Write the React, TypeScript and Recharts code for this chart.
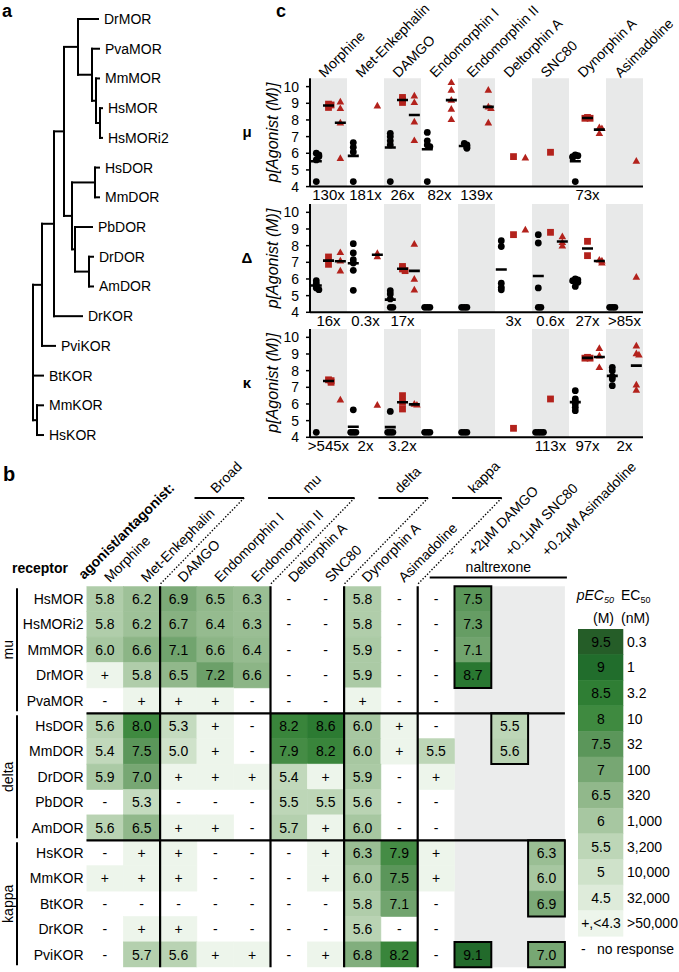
import React from 'react';
import { ScatterChart, Scatter, XAxis, YAxis, ReferenceLine, ReferenceArea } from 'recharts';

const FONT = '"Liberation Sans", Arial, Helvetica, sans-serif';
const RED = '#b3221c';
const BAND = '#e8e9e9';

// ================= Panel a: tree =================
const treeLeaves = ['DrMOR', 'PvaMOR', 'MmMOR', 'HsMOR', 'HsMORi2', 'HsDOR', 'MmDOR', 'PbDOR', 'DrDOR', 'AmDOR', 'DrKOR', 'PviKOR', 'BtKOR', 'MmKOR', 'HsKOR'];
const leafDepth = [98, 99, 99, 102, 102, 99, 99, 92, 93, 93, 82, 55, 43, 43, 43];
const leafParent = ['MOR', 'PVA', 'MMHS', 'HS', 'HS', 'DHM', 'DHM', 'DB', 'DDA', 'DDA', 'DK', 'PK', 'ROOT', 'KMH', 'KMH'];
const nodeIds = ['HS', 'MMHS', 'PVA', 'MOR', 'DHM', 'DDA', 'DB', 'DA', 'MD', 'DK', 'PK', 'KMH', 'ROOT'];
const nodeDepth = [100, 96, 92, 78, 95, 89, 75, 72, 64, 54, 42, 37, 33];
const nodeParent: (string | null)[] = ['MMHS', 'PVA', 'MOR', 'MD', 'DA', 'DB', 'DA', 'MD', 'DK', 'PK', 'ROOT', 'ROOT', null];

// ================= Panel c: scatter =================
const agonists = ['Morphine', 'Met-Enkephalin', 'DAMGO', 'Endomorphin I', 'Endomorphin II', 'Deltorphin A', 'SNC80', 'Dynorphin A', 'Asimadoline'];

const muBlack = [[6.0, 5.9, 5.8, 5.6, 4.3], [6.64, 6.36, 6.08, 4.3], [7.2, 7.0, 6.75, 6.5, 4.3], [7.25, 6.75, 6.5, 6.4, 4.3], [6.6, 6.5, 6.45, 6.35, 6.3], [], [], [5.9, 5.85, 5.8, 5.75, 4.3], []];
const muSquare = [[8.95, 8.9, 8.75], [], [9.35, 9.2, 9.05], [], [], [5.8], [6.06], [8.15, 8.1, 8.1], []];
const muTri = [[9.1, 8.7, 7.84, 5.7], [8.86], [9.46, 9.06, 7.9, 6.78], [10.26, 9.8, 9.2, 8.66, 8.04], [9.8, 8.8, 8.7, 7.84], [5.74], [], [7.55, 7.5, 7.2], [5.54]];
const muRatio = ['130x', '181x', '26x', '82x', '139x', '', '', '73x', ''];

const deBlack = [[5.9, 5.72, 5.6, 5.46, 5.36], [8.12, 7.56, 7.16, 6.96, 6.52, 5.32], [5.3, 5.1, 4.8, 4.3, 4.3], [4.3, 4.3, 4.3], [4.3, 4.3, 4.3], [8.3, 7.95, 5.75, 5.5, 5.35], [8.66, 8.16, 5.46, 4.3, 4.3], [6.0, 5.95, 5.9, 5.8, 5.55], [4.3, 4.3, 4.3]];
const deSquare = [[7.32, 6.88], [], [6.75, 6.6, 6.5], [], [], [8.66], [8.8], [8.26, 7.4], []];
const deTri = [[7.6, 7.1, 6.5], [7.55, 7.35], [8.1, 6.0, 5.36], [], [], [8.96], [8.55, 8.2, 8.0], [7.15, 7.1, 6.98], [6.12]];
const deRatio = ['16x', '0.3x', '17x', '', '', '3x', '0.6x', '27x', '>85x'];

const kaBlack = [[4.3], [5.65, 4.3, 4.3, 4.3], [5.55, 4.3, 4.3, 4.3], [4.3, 4.3, 4.3], [4.3, 4.3, 4.3], [], [4.3, 4.3, 4.3, 4.3], [6.8, 6.3, 6.15, 6.0, 5.8, 5.6], [8.2, 8.0, 7.64, 7.5, 7.1]];
const kaSquare = [[7.45, 7.4, 7.3], [], [6.5, 6.1, 5.7], [], [], [4.54], [6.3], [8.8, 8.75, 8.75], []];
const kaTri = [[6.26], [5.94], [6.0, 5.95], [], [], [], [], [9.35, 8.9, 8.2], [9.5, 9.04, 8.96, 7.16, 6.84]];
const kaRatio = ['>545x', '2x', '3.2x', '', '', '', '113x', '97x', '2x'];

const cRowNames = ['μ', 'Δ', 'κ'];
const yTicksC = [4, 5, 6, 7, 8, 9, 10];

// ================= Panel b: heatmap =================
const receptors = ['HsMOR', 'HsMORi2', 'MmMOR', 'DrMOR', 'PvaMOR', 'HsDOR', 'MmDOR', 'DrDOR', 'PbDOR', 'AmDOR', 'HsKOR', 'MmKOR', 'BtKOR', 'DrKOR', 'PviKOR'];
const heatColumns = ['Morphine', 'Met-Enkephalin', 'DAMGO', 'Endomorphin I', 'Endomorphin II', 'Deltorphin A', 'SNC80', 'Dynorphin A', 'Asimadoline', '-', '+2μM DAMGO', '+0.1μM SNC80', '+0.2μM Asimadoline'];
const heatValues = [
  ['5.8', '6.2', '6.9', '6.5', '6.3', '-', '-', '5.8', '-', '-', '7.5', '', ''],
  ['5.8', '6.2', '6.7', '6.4', '6.3', '-', '-', '5.8', '-', '-', '7.3', '', ''],
  ['6.0', '6.6', '7.1', '6.6', '6.4', '-', '-', '5.9', '-', '-', '7.1', '', ''],
  ['+', '5.8', '6.5', '7.2', '6.6', '-', '-', '5.9', '-', '-', '8.7', '', ''],
  ['-', '+', '+', '+', '-', '-', '-', '+', '-', '-', '', '', ''],
  ['5.6', '8.0', '5.3', '+', '-', '8.2', '8.6', '6.0', '+', '-', '', '5.5', ''],
  ['5.4', '7.5', '5.0', '+', '-', '7.9', '8.2', '6.0', '+', '5.5', '', '5.6', ''],
  ['5.9', '7.0', '+', '+', '+', '5.4', '+', '5.9', '-', '+', '', '', ''],
  ['-', '5.3', '-', '-', '-', '5.5', '5.5', '5.6', '-', '-', '', '', ''],
  ['5.6', '6.5', '+', '+', '-', '5.7', '+', '6.0', '-', '-', '', '', ''],
  ['-', '+', '+', '-', '-', '-', '+', '6.3', '7.9', '+', '', '', '6.3'],
  ['+', '+', '+', '-', '-', '-', '+', '6.0', '7.5', '+', '', '', '6.0'],
  ['-', '-', '-', '-', '-', '-', '-', '5.8', '7.1', '-', '', '', '6.9'],
  ['-', '+', '+', '-', '-', '-', '-', '5.6', '-', '-', '', '', ''],
  ['-', '5.7', '5.6', '+', '+', '-', '+', '6.8', '8.2', '-', '9.1', '', '7.0'],
];
const receptorGroups = ['mu', 'delta', 'kappa'];
const receptorGroupRows = [[0, 5], [5, 10], [10, 15]];
const agonistGroups = ['Broad', 'mu', 'delta', 'kappa'];
const agonistGroupCols = [[0, 2], [2, 5], [5, 7], [7, 9]];
const antagonistName = 'naltrexone';
const antagonistCols = [9, 13];
const greyCols = [10, 13];
const boxCol = [10, 11, 12, 10, 12];
const boxRows = [[0, 4], [5, 7], [10, 13], [14, 15], [14, 15]];

const legendVals = [9.5, 9, 8.5, 8, 7.5, 7, 6.5, 6, 5.5, 5, 4.5];
const legendColors = ['#255d28', '#216d2c', '#2f7e34', '#3f8a40', '#5b965a', '#77a773', '#91b88b', '#a7c7a1', '#bdd6b7', '#cfe2ca', '#deebda'];
const legendEC50 = ['0.3', '1', '3.2', '10', '32', '100', '320', '1,000', '3,200', '10,000', '32,000'];
const plusLabel = '+,<4.3';
const plusEC50 = '>50,000';
const plusColor = '#edf5eb';
const noneLabel = '-';
const noneText = 'no response';

// ================= helpers =================
function hexToRgb(h: string) {
  const n = parseInt(h.slice(1), 16);
  return [(n >> 16) & 255, (n >> 8) & 255, n & 255];
}
function colorFor(v: number): string {
  const vs = [...legendVals].reverse();
  const cs = [...legendColors].reverse();
  if (v <= vs[0]) return cs[0];
  if (v >= vs[vs.length - 1]) return cs[cs.length - 1];
  for (let i = 0; i < vs.length - 1; i++) {
    if (v >= vs[i] && v <= vs[i + 1]) {
      const t = (v - vs[i]) / (vs[i + 1] - vs[i]);
      const a = hexToRgb(cs[i]);
      const b = hexToRgb(cs[i + 1]);
      return `rgb(${a.map((x, k) => Math.round(x + (b[k] - x) * t)).join(',')})`;
    }
  }
  return cs[0];
}
const EmptyShape = () => <g />;

// ================= Tree chart =================
function TreeChart() {
  type N = { depth: number; parent: string | null; y?: number; children: string[] };
  const nodes: Record<string, N> = {};
  nodeIds.forEach((id, k) => (nodes[id] = { depth: nodeDepth[k], parent: nodeParent[k], children: [] }));
  treeLeaves.forEach((n, i) => (nodes[n] = { depth: leafDepth[i], parent: leafParent[i], y: i, children: [] }));
  Object.keys(nodes).forEach((id) => {
    const p = nodes[id].parent;
    if (p) nodes[p].children.push(id);
  });
  const getY = (id: string): number => {
    const n = nodes[id];
    if (n.y === undefined) {
      const ys = n.children.map(getY);
      n.y = (Math.min(...ys) + Math.max(...ys)) / 2;
    }
    return n.y;
  };
  Object.keys(nodes).forEach(getY);
  const segments: { x: number; y: number }[][] = [];
  Object.keys(nodes).forEach((id) => {
    const n = nodes[id];
    if (!n.parent) return;
    const p = nodes[n.parent];
    segments.push([{ x: p.depth, y: p.y as number }, { x: p.depth, y: n.y as number }]);
    segments.push([{ x: p.depth, y: n.y as number }, { x: n.depth, y: n.y as number }]);
  });
  const leafData = treeLeaves.map((name, i) => ({ x: leafDepth[i], y: i, name }));
  const LeafLabel = (p: any) => (
    <text x={p.cx + 6} y={p.cy} dy={5} fontSize={14} fill="#000">{p.payload.name}</text>
  );
  return (
    <ScatterChart width={235} height={460} margin={{ top: 0, right: 0, bottom: 0, left: 0 }}>
      <XAxis type="number" dataKey="x" domain={[0, 235]} allowDataOverflow hide />
      <YAxis type="number" dataKey="y" domain={[-0.64, 14.84]} reversed allowDataOverflow hide />
      {segments.map((s, i) => (
        <ReferenceLine key={i} segment={s as any} stroke="#000" strokeWidth={2} strokeLinecap="square" ifOverflow="visible" />
      ))}
      <Scatter data={leafData} shape={LeafLabel} isAnimationActive={false} />
    </ScatterChart>
  );
}

// ================= Panel c plots =================
const POS_BLACK = 0.17;
const POS_SQ = 0.5;
const POS_TRI = 0.82;
const catTicks = agonists.map((_, i) => i + 0.5);

function spread(series: number[][], off: number) {
  const out: { x: number; y: number }[] = [];
  series.forEach((vals, i) => {
    vals.forEach((v, j) => {
      const dup = vals.slice(0, j).filter((w) => Math.abs(w - v) < 0.12).length;
      const side = dup % 2 === 1 ? 1 : -1;
      const dx = dup === 0 ? 0 : side * Math.ceil(dup / 2) * 0.07;
      out.push({ x: i + off + dx, y: v });
    });
  });
  return out;
}
function means(series: number[][], off: number) {
  const out: { x: number; y: number }[] = [];
  series.forEach((vals, i) => {
    if (vals.length >= 2) out.push({ x: i + off, y: vals.reduce((a, b) => a + b, 0) / vals.length });
  });
  return out;
}

const DotShape = (p: any) => <circle cx={p.cx} cy={p.cy} r={3.4} fill="#000" />;
const SqShape = (p: any) => <rect x={p.cx - 3.4} y={p.cy - 3.4} width={6.8} height={6.8} fill={RED} />;
const TriShape = (p: any) => (
  <path d={`M${p.cx},${p.cy - 3.9}L${p.cx + 3.8},${p.cy + 2.8}L${p.cx - 3.8},${p.cy + 2.8}Z`} fill={RED} />
);
const DashShape = (p: any) => (
  <line x1={p.cx - 5.5} x2={p.cx + 5.5} y1={p.cy} y2={p.cy} stroke="#000" strokeWidth={2.6} />
);

const CatTick = (p: any) => {
  const i = Math.floor(p.payload.value);
  const x = p.x - 4;
  const y = p.y;
  return (
    <text x={x} y={y} transform={`rotate(-45 ${x} ${y})`} fontSize={14} fill="#000">{agonists[i]}</text>
  );
};

const C_PLOT_H = 108.3;
const C_BOTTOM_H = 22;

function PlotC(props: { black: number[][]; square: number[][]; tri: number[][]; ratios: string[]; topH: number; marginTop: number }) {
  const { black, square, tri, ratios, topH, marginTop } = props;
  const RatioTick = (p: any) => (
    <text x={p.x} y={p.y} dy="0.72em" textAnchor="middle" fontSize={15} fill="#000">{ratios[Math.floor(p.payload.value)]}</text>
  );
  const dashes = [...means(black, POS_BLACK), ...means(square, POS_SQ), ...means(tri, POS_TRI)];
  const height = marginTop + topH + C_PLOT_H + C_BOTTOM_H;
  const catAnchors = catTicks.map((x) => ({ x, y: 10.5 }));
  return (
    <ScatterChart width={439} height={height} margin={{ top: marginTop, right: 36, bottom: 0, left: 0 }}>
      {topH > 0 && (
        <XAxis xAxisId="top" orientation="top" type="number" dataKey="x" domain={[0, 9]} allowDataOverflow ticks={catTicks} interval={0}
          height={topH} axisLine={false} tickLine={false} tickSize={0} tickMargin={0} tick={CatTick} />
      )}
      <XAxis xAxisId={0} type="number" dataKey="x" domain={[0, 9]} allowDataOverflow ticks={catTicks} interval={0}
        height={C_BOTTOM_H} axisLine={{ stroke: '#000', strokeWidth: 2 }} tickLine={false} tickSize={0} tickMargin={3} tick={RatioTick} />
      <YAxis type="number" dataKey="y" domain={[4, 10.5]} allowDataOverflow ticks={yTicksC} interval={0} width={70}
        axisLine={{ stroke: '#000', strokeWidth: 2 }} tickLine={{ stroke: '#000', strokeWidth: 1.5 }} tickSize={4} tickMargin={7}
        tick={{ fontSize: 14, fill: '#000' }} />
      {agonists.map((_, i) => (i % 2 === 0 ? (
        <ReferenceArea key={i} x1={i} x2={i + 1} y1={4} y2={10.5} fill={BAND} fillOpacity={1} stroke="none" />
      ) : null))}
      {topH > 0 && <Scatter xAxisId="top" data={catAnchors} shape={EmptyShape} isAnimationActive={false} />}
      <Scatter data={spread(black, POS_BLACK)} shape={DotShape} isAnimationActive={false} />
      <Scatter data={spread(square, POS_SQ)} shape={SqShape} isAnimationActive={false} />
      <Scatter data={spread(tri, POS_TRI)} shape={TriShape} isAnimationActive={false} />
      <Scatter data={dashes} shape={DashShape} isAnimationActive={false} />
    </ScatterChart>
  );
}

// ================= Heatmap =================
const HM = { chartTop: 430, plotTop: 586.3, plotLeft: 86.5, cw: 36.8, rh: 25.4 };
const NCOL = heatColumns.length;
const NROW = receptors.length;
const HM_PLOT_W = HM.cw * NCOL;
const HM_PLOT_H = HM.rh * NROW;
const HM_HDR_H = 100;

function HeatCell(p: any) {
  const { cx, cy, payload } = p;
  const v: string = payload.v;
  const fill = v === '-' ? null : v === '+' ? plusColor : colorFor(parseFloat(v));
  return (
    <g>
      {fill && (
        <rect x={cx - HM.cw / 2} y={cy - HM.rh / 2} width={HM.cw} height={HM.rh} fill={fill} stroke={fill} strokeWidth={0.6} />
      )}
      <text x={cx} y={cy} dy={5} textAnchor="middle" fontSize={14} fill="#000">{v}</text>
    </g>
  );
}

const HeatHeaderTick = (p: any) => {
  const c = Math.floor(p.payload.value);
  const nal = c >= antagonistCols[0];
  const x = p.x + (c === antagonistCols[0] ? 17 : nal ? 1 : 5);
  const y = p.y - (nal ? 29 : 3.3);
  return (
    <text x={x} y={y} transform={`rotate(-45 ${x} ${y})`} fontSize={14} fill="#000">{heatColumns[c]}</text>
  );
};
const RowTick = (p: any) => (
  <text x={p.x} y={p.y} dy={5} textAnchor="end" fontSize={14} fill="#000">{receptors[Math.floor(p.payload.value)]}</text>
);

function HeatChart() {
  const data: { x: number; y: number; v: string }[] = [];
  heatValues.forEach((row, r) => row.forEach((v, c) => { if (v !== '') data.push({ x: c + 0.5, y: r + 0.5, v }); }));
  const colAnchors = heatColumns.map((_, i) => ({ x: i + 0.5, y: 0 }));
  const chartH = 972 - HM.chartTop;
  const mTop = HM.plotTop - HM.chartTop - HM_HDR_H;
  const mBottom = chartH - (HM.plotTop - HM.chartTop) - HM_PLOT_H;
  const mRight = 679 - HM.plotLeft - HM_PLOT_W;
  const vLines = agonistGroupCols.map((g) => g[1]).filter((k) => k < NCOL);
  const hLines = receptorGroupRows.map((g) => g[1]).filter((k) => k < NROW);
  return (
    <ScatterChart width={679} height={chartH} margin={{ top: mTop, right: mRight, bottom: mBottom, left: 0 }}>
      <XAxis xAxisId={0} type="number" dataKey="x" domain={[0, NCOL]} allowDataOverflow hide />
      <XAxis xAxisId="hdr" orientation="top" type="number" dataKey="x" domain={[0, NCOL]} allowDataOverflow
        ticks={heatColumns.map((_, i) => i + 0.5)} interval={0} height={HM_HDR_H} axisLine={false} tickLine={false}
        tickSize={0} tickMargin={0} tick={HeatHeaderTick} />
      <YAxis type="number" dataKey="y" domain={[0, NROW]} reversed allowDataOverflow ticks={receptors.map((_, i) => i + 0.5)}
        interval={0} width={HM.plotLeft} axisLine={false} tickLine={false} tickSize={0} tickMargin={3} tick={RowTick} />
      <ReferenceArea x1={greyCols[0]} x2={greyCols[1]} y1={0} y2={NROW} fill="#ebecec" fillOpacity={1} stroke="none" />
      <Scatter xAxisId="hdr" data={colAnchors} shape={EmptyShape} isAnimationActive={false} />
      <Scatter data={data} shape={HeatCell} isAnimationActive={false} />
      {vLines.map((k) => (
        <ReferenceLine key={'v' + k} x={k} stroke="#000" strokeWidth={2.2} {...({ zIndex: 1500 } as any)} />
      ))}
      {hLines.map((k) => (
        <ReferenceLine key={'h' + k} y={k} stroke="#000" strokeWidth={2.2} {...({ zIndex: 1500 } as any)} />
      ))}
      {boxCol.map((c, i) => (
        <ReferenceArea key={'b' + i} x1={c} x2={c + 1} y1={boxRows[i][0]} y2={boxRows[i][1]} fill="none" fillOpacity={0}
          stroke="#000" strokeWidth={2} {...({ zIndex: 1500 } as any)} />
      ))}
    </ScatterChart>
  );
}

// ================= Legend =================
const LEG = { left: 578, top: 629, cellW: 45, rowH: 25.6 };
function LegendCell(p: any) {
  const { cx, cy, payload } = p;
  const { kind, label, ec, color } = payload;
  if (kind === 'none') {
    return (
      <g>
        <text x={cx + 3} y={cy} dy={5} fontSize={14} fill="#000">{label}</text>
        <text x={cx + 19} y={cy} dy={5} fontSize={14} fill="#000">{ec}</text>
      </g>
    );
  }
  return (
    <g>
      <rect x={cx} y={cy - LEG.rowH / 2} width={LEG.cellW} height={LEG.rowH} fill={color} stroke={color} strokeWidth={0.6} />
      <text x={cx + LEG.cellW / 2 + 0.5} y={cy} dy={5} textAnchor="middle" fontSize={14} fill="#000">{label}</text>
      <text x={cx + LEG.cellW + 4} y={cy} dy={5} fontSize={14} fill="#000">{ec}</text>
    </g>
  );
}
function LegendChart() {
  const items = [
    ...legendVals.map((v, i) => ({ kind: 'val', label: String(v), ec: legendEC50[i], color: legendColors[i] })),
    { kind: 'plus', label: plusLabel, ec: plusEC50, color: plusColor },
    { kind: 'none', label: noneLabel, ec: noneText, color: 'none' },
  ];
  const data = items.map((it, i) => ({ ...it, x: 0, y: i + 0.5 }));
  return (
    <ScatterChart width={101} height={LEG.rowH * items.length} margin={{ top: 0, right: 0, bottom: 0, left: 0 }}>
      <XAxis type="number" dataKey="x" domain={[0, 1]} allowDataOverflow hide />
      <YAxis type="number" dataKey="y" domain={[0, items.length]} reversed allowDataOverflow hide />
      <Scatter data={data} shape={LegendCell} isAnimationActive={false} />
    </ScatterChart>
  );
}

// ================= Overlay text =================
const C_TOPS = [78.3, 204.3, 328.7];
function Overlay() {
  const X = (k: number) => HM.plotLeft + HM.cw * k;
  const Y = (r: number) => HM.plotTop + HM.rh * r;
  const hdrY = 498;
  return (
    <svg width={679} height={972} style={{ position: 'absolute', left: 0, top: 0, pointerEvents: 'none' }} fontFamily={FONT}>
      <text x={2} y={17} fontSize={18} fontWeight="bold">a</text>
      <text x={276} y={17} fontSize={18} fontWeight="bold">c</text>
      <text x={3} y={481} fontSize={20} fontWeight="bold">b</text>
      {cRowNames.map((n, i) => {
        const mid = C_TOPS[i] + C_PLOT_H / 2;
        return (
          <g key={n}>
            <text x={247} y={mid + 5} textAnchor="middle" fontSize={15} fontWeight="bold">{n}</text>
            <text x={278} y={mid} textAnchor="middle" fontSize={16} fontStyle="italic" transform={`rotate(-90 278 ${mid})`}>p[Agonist (M)]</text>
          </g>
        );
      })}
      <text x={12} y={573} fontSize={14} fontWeight="bold">receptor</text>
      <text x={84} y={580} fontSize={14} fontWeight="bold" transform="rotate(-45 84 580)">agonist/antagonist:</text>
      {agonistGroups.map((g, i) => {
        const [s, e] = agonistGroupCols[i];
        const right = X(e) + 84;
        const left = X(s) + 108;
        const cx = (left + right) / 2 - 3;
        return (
          <g key={g}>
            <line x1={left} x2={right} y1={hdrY} y2={hdrY} stroke="#000" strokeWidth={2} />
            <line x1={right} y1={hdrY} x2={X(e)} y2={Y(0) - 2} stroke="#000" strokeWidth={1.4} strokeDasharray="1.4 1.8" />
            <text x={cx} y={hdrY - 4} fontSize={14} transform={`rotate(-45 ${cx} ${hdrY - 4})`}>{g}</text>
          </g>
        );
      })}
      <text x={(X(antagonistCols[0]) + 12 + X(antagonistCols[1]) + 2) / 2} y={572} fontSize={14} textAnchor="middle">{antagonistName}</text>
      <line x1={X(antagonistCols[0]) + 12} x2={X(antagonistCols[1]) + 2} y1={577.5} y2={577.5} stroke="#000" strokeWidth={2} />
      {receptorGroups.map((g, i) => {
        const [r0, r1] = receptorGroupRows[i];
        const mid = (Y(r0) + Y(r1)) / 2;
        return (
          <g key={g}>
            <line x1={17} x2={17} y1={Y(r0) + 2} y2={Y(r1) - 2} stroke="#000" strokeWidth={2} />
            <text x={13} y={mid} fontSize={14} textAnchor="middle" transform={`rotate(-90 13 ${mid})`}>{g}</text>
          </g>
        );
      })}
      <text x={614} y={600} fontSize={14} fontStyle="italic" textAnchor="end">pEC<tspan fontSize={9} dy={3}>50</tspan></text>
      <text x={614} y={623} fontSize={14} textAnchor="end">(M)</text>
      <text x={621} y={600} fontSize={14}>EC<tspan fontSize={9} dy={3}>50</tspan></text>
      <text x={621} y={623} fontSize={14}>(nM)</text>
    </svg>
  );
}

export default function App() {
  return (
    <div style={{ position: 'relative', width: 679, height: 972, fontFamily: FONT, background: '#fff', overflow: 'hidden' }}>
      <style>{'body{margin:0;}'}</style>
      <div style={{ position: 'absolute', left: 0, top: 0 }}><TreeChart /></div>
      <div style={{ position: 'absolute', left: 240, top: 0 }}>
        <PlotC black={muBlack} square={muSquare} tri={muTri} ratios={muRatio} topH={C_TOPS[0]} marginTop={0} />
      </div>
      <div style={{ position: 'absolute', left: 240, top: C_TOPS[1] - 5 }}>
        <PlotC black={deBlack} square={deSquare} tri={deTri} ratios={deRatio} topH={0} marginTop={5} />
      </div>
      <div style={{ position: 'absolute', left: 240, top: C_TOPS[2] - 5 }}>
        <PlotC black={kaBlack} square={kaSquare} tri={kaTri} ratios={kaRatio} topH={0} marginTop={5} />
      </div>
      <div style={{ position: 'absolute', left: 0, top: HM.chartTop }}><HeatChart /></div>
      <div style={{ position: 'absolute', left: LEG.left, top: LEG.top }}><LegendChart /></div>
      <Overlay />
    </div>
  );
}
